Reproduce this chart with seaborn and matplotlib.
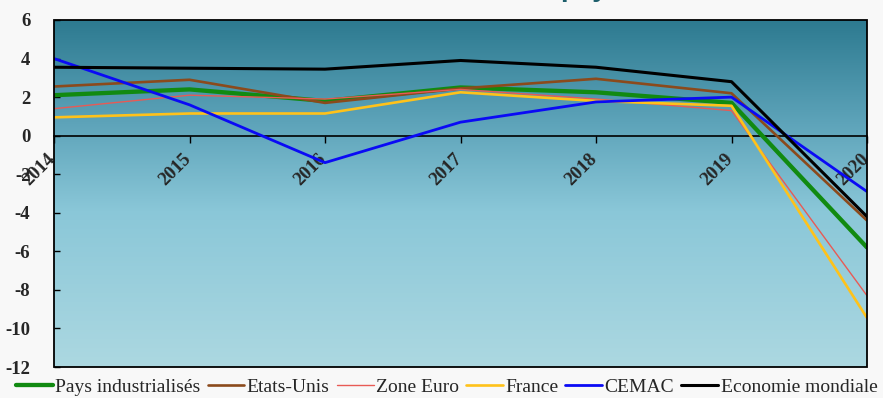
import numpy as np
import pandas as pd
import matplotlib
matplotlib.use("Agg")
import matplotlib.pyplot as plt
import matplotlib.transforms as mtransforms
import seaborn as sns
from matplotlib.colors import LinearSegmentedColormap
from matplotlib.patches import Rectangle

years = [2014, 2015, 2016, 2017, 2018, 2019, 2020]
year_labels = ["2014", "2015", "2016", "2017", "2018", "2019", "2020"]
y_ticks = [-12, -10, -8, -6, -4, -2, 0, 2, 4, 6]
pays_industrialises = [2.1, 2.4, 1.8, 2.5, 2.25, 1.7, -5.8]
etats_unis = [2.55, 2.9, 1.7, 2.45, 2.95, 2.2, -4.4]
zone_euro = [1.4, 2.1, 1.9, 2.4, 1.9, 1.3, -8.3]
france = [0.95, 1.15, 1.15, 2.25, 1.8, 1.55, -9.45]
cemac = [4.0, 1.6, -1.4, 0.7, 1.75, 2.0, -2.9]
economie_mondiale = [3.55, 3.5, 3.45, 3.9, 3.55, 2.8, -4.2]

series_names = ["Pays industrialisés", "Etats-Unis", "Zone Euro", "France",
                "CEMAC", "Economie mondiale"]
series_values = [pays_industrialises, etats_unis, zone_euro, france, cemac,
                 economie_mondiale]
colors = ["#118a11", "#8b4a1c", "#e85a55", "#ffc21a", "#0a0af5", "#000000"]
widths = [3.1, 1.9, 1.0, 1.9, 2.0, 2.2]

sns.set_theme(style="white")
plt.rcParams["font.family"] = ["Liberation Serif", "DejaVu Serif"]
plt.rcParams["axes.unicode_minus"] = False

fig = plt.figure(figsize=(8.83, 3.98), dpi=100, facecolor="#f8f8f8")
ax = fig.add_axes([54 / 883, 31 / 398, (867 - 54) / 883, (367 - 20) / 398])

# gradient background
cmap = LinearSegmentedColormap.from_list(
    "bg", [(0.0, "#acd8e1"), (0.45, "#8ac7d8"), (0.7, "#5ea4ba"), (1.0, "#2d7a90")])
grad = np.linspace(0, 1, 256).reshape(-1, 1)
ax.imshow(grad, extent=[0, 1, 0, 1], transform=ax.transAxes, cmap=cmap,
          aspect="auto", origin="lower", zorder=0)

frames = []
for name, vals in zip(series_names, series_values):
    frames.append(pd.DataFrame({"year": years, "value": vals, "series": name}))
df = pd.concat(frames, ignore_index=True)

for name, col, lw in zip(series_names, colors, widths):
    sub = df[df["series"] == name]
    sns.lineplot(data=sub, x="year", y="value", color=col, linewidth=lw,
                 label=name, ax=ax, zorder=3)

ax.set_xlim(2014, 2020)
ax.set_ylim(-12, 6)
ax.set_xlabel("")
ax.set_ylabel("")

# spines
for s in ["top", "right", "left"]:
    ax.spines[s].set_visible(False)
ax.spines["bottom"].set_position(("data", 0))
ax.spines["bottom"].set_color("black")
ax.spines["bottom"].set_linewidth(1.2)
ax.spines["bottom"].set_zorder(2)
ax.add_patch(Rectangle((0, 0), 1, 1, transform=ax.transAxes, fill=False,
                       edgecolor="black", linewidth=1.3, zorder=5, clip_on=False))

ax.set_yticks(y_ticks, labels=[str(v) for v in y_ticks], fontweight="bold",
              fontsize=13.5)
ax.set_xticks(years, labels=year_labels, fontweight="bold", fontsize=13.5,
              rotation=45, ha="right", va="top")
ax.tick_params(axis="y", direction="in", length=4, width=1, color="black",
               pad=17, left=True)
ax.tick_params(axis="x", direction="out", length=5, width=1, color="black",
               pad=5.5, bottom=True)
offset = mtransforms.ScaledTranslation(5 / 100, 0, fig.dpi_scale_trans)
for lab in ax.get_xticklabels():
    lab.set_transform(lab.get_transform() + offset)
ax.grid(False)

# legend
handles, labels = ax.get_legend_handles_labels()
if ax.legend_:
    ax.legend_.remove()
fig.legend(handles, labels, loc="center left", bbox_to_anchor=(16 / 883, 11 / 398),
           ncol=6, frameon=False, fontsize=14, handlelength=1.9,
           handletextpad=0.12, columnspacing=0.36, borderaxespad=0,
           borderpad=0)

# partially visible title fragment at the top edge
fig.text(560 / 883, 1.0 + 4 / 398, "pays", ha="left", va="baseline",
         fontsize=20, fontweight="bold", color="#1d5e6b",
         family=["Liberation Sans", "DejaVu Sans"])

fig.savefig("out.png", dpi=100, facecolor=fig.get_facecolor())
